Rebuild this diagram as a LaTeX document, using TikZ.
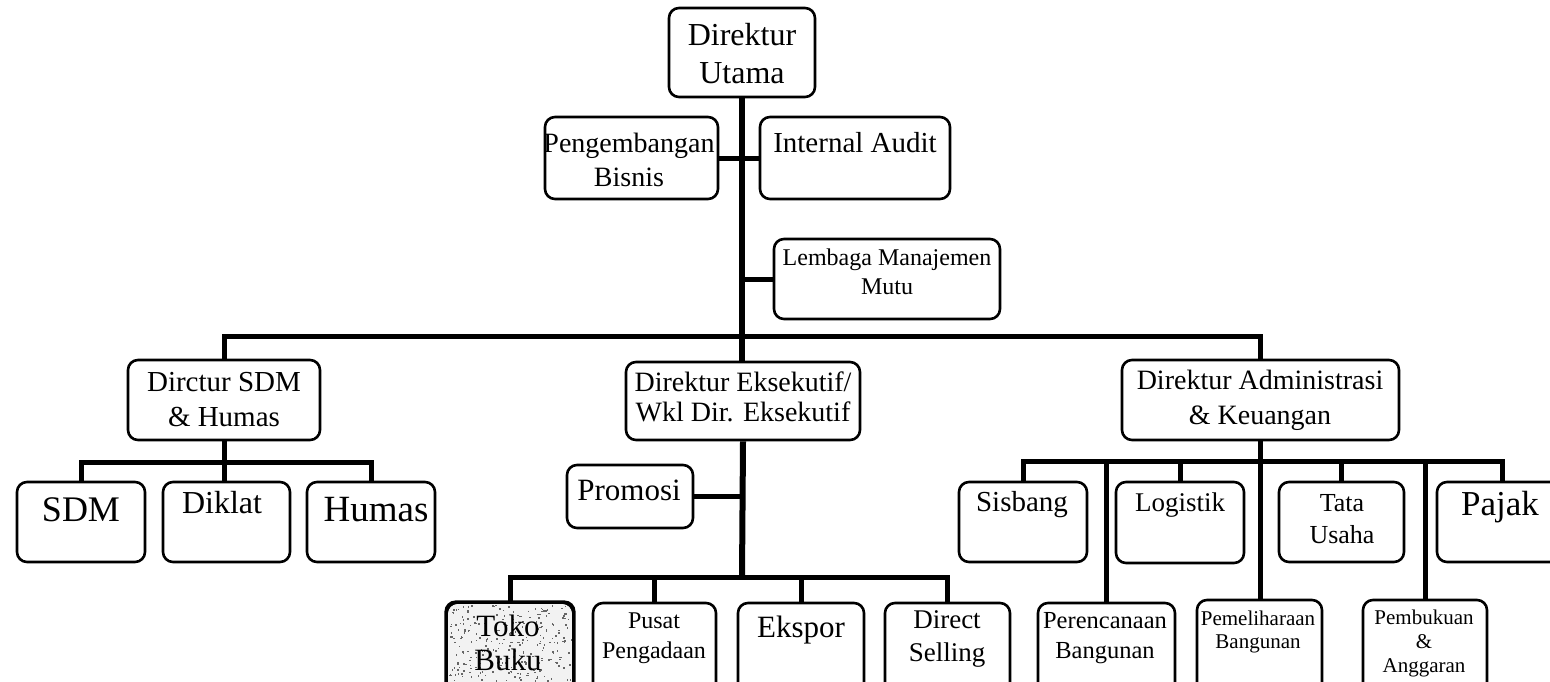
\documentclass[tikz,border=0pt]{standalone}
\usepackage{fontspec}
\setmainfont{Liberation Serif}
\begin{document}
\begin{tikzpicture}[x=1pt,y=-1pt,
  box/.style={draw, rounded corners=10pt, line width=2.6pt, inner sep=0pt, fill=white},
  link/.style={line width=5pt},
  trunk/.style={line width=6pt},
  lbl/.style={align=center, inner sep=0pt}]
\useasboundingbox (0,0) rectangle (1550,681);
\clip (0,0) rectangle (1550,681);

% box: name, x1, y1, x2, y2
\newcommand\orgbox[5]{%
  \node[box, minimum width={(#4-#2)*1pt}, minimum height={(#5-#3)*1pt}]
    (#1) at ({(#2+#4)/2},{(#3+#5)/2}) {};}
% label: name, x, y, size, leading, text
\newcommand\orglabel[6]{%
  \node[lbl, font=\fontsize{#4}{#5}\selectfont] (#1) at (#2,#3) {#6};}

% bus junctions
\coordinate (bus) at (742,336);
\coordinate (sbus) at (224,462);
\coordinate (ebus) at (742,577);
\coordinate (abus) at (1261,461);

% ---------- boxes ----------
\orgbox{du}{669}{8}{815}{97}
\orgbox{pb}{545}{117}{718}{199}
\orgbox{ia}{760}{117}{950}{199}
\orgbox{lmm}{774}{239}{1000}{319}
\orgbox{sdmh}{128}{360}{320}{440}
\orgbox{de}{626}{362}{860}{440}
\orgbox{da}{1122}{360}{1399}{440}
\orgbox{sdm}{17}{482}{145}{562}
\orgbox{diklat}{163}{482}{290}{562}
\orgbox{humas}{307}{482}{435}{562}
\orgbox{promosi}{567}{465}{693}{528}
\orgbox{toko}{447}{603}{573}{700}
\orgbox{pusat}{593}{603}{716}{700}
\orgbox{ekspor}{738}{603}{864}{700}
\orgbox{ds}{885}{603}{1010}{700}
\orgbox{sisbang}{959}{482}{1087}{562}
\orgbox{logistik}{1116}{482}{1244}{563}
\orgbox{tu}{1279}{482}{1404}{562}
\orgbox{pajak}{1437}{482}{1568}{562}
\orgbox{pren}{1038}{603}{1175}{700}
\orgbox{pem}{1197}{600}{1322}{700}
\orgbox{pbk}{1363}{600}{1487}{700}

% stippled fill of the bookshop box
\begin{scope}
  \clip[rounded corners=10pt] (448,604) rectangle (572,699);
  \fill[black!5] (447,603) rectangle (573,700);
  \pgfmathsetseed{4711}
  \foreach \i in {1,...,260}{
    \pgfmathsetmacro\px{449+122*rnd}
    \pgfmathsetmacro\py{605+76*rnd}
    \fill[black!60] (\px,\py) rectangle ++({0.8+1.4*rnd},{0.8+1.4*rnd});
  }
\end{scope}
\draw[line width=2.6pt, rounded corners=10pt] (toko.north west) rectangle (toko.south east);

% ---------- connectors ----------
\draw[trunk] (du.south) -- (du.south |- de.north);
\draw[link] (pb.east) -- (ia.west);
\draw[link] (lmm.west) -- (lmm.west -| du.south);
\draw[link] (sdmh.north) |- (bus) -| (da.north);
\draw[link] (sdm.north) |- (sbus) -| (humas.north);
\draw[link] (sdmh.south) -- (sdmh.south |- diklat.north);
\draw[link] (promosi.east) -- (promosi.east -| de.south);
\draw[trunk] (de.south) -- (ebus);
\draw[link] (toko.north) |- (ebus) -| (ds.north);
\draw[link] (pusat.north) -- (pusat.north |- ebus);
\draw[link] (ekspor.north) -- (ekspor.north |- ebus);
\draw[link] (sisbang.north) |- (abus) -| (pajak.north);
\draw[link] (da.south) -- (da.south |- pem.north);
\draw[link] (logistik.north) -- (logistik.north |- abus);
\draw[link] (tu.north) -- (tu.north |- abus);
\draw[link] (pren.north) -- (pren.north |- abus);
\draw[link] (pbk.north) -- (pbk.north |- abus);

% ---------- labels ----------
\orglabel{du-t}{742}{54}{32}{38}{Direktur\\Utama}
\orglabel{pb-t}{629}{160}{28}{34}{Pengembangan\\Bisnis}
\orglabel{ia-t}{855}{143}{29}{34}{Internal Audit}
\orglabel{lmm-t}{887}{272}{24}{29}{Lembaga Manajemen\\Mutu}
\orglabel{sdmh-t}{224}{400}{29}{35}{Dirctur SDM\\\& Humas}
\orglabel{de-t}{743}{397}{28}{30}{Direktur Eksekutif/\\Wkl Dir. Eksekutif}
\orglabel{da-t}{1260}{400}{28}{35}{Direktur Administrasi\\\& Keuangan}
\orglabel{sdm-t}{81}{510}{36}{40}{SDM}
\orglabel{diklat-t}{222}{503}{32}{36}{Diklat}
\orglabel{humas-t}{376}{510}{37}{40}{Humas}
\orglabel{promosi-t}{629}{490}{31}{36}{Promosi}
\orglabel{toko-t}{508}{643}{31}{34}{Toko\\Buku}
\orglabel{pusat-t}{654}{638}{24}{30}{Pusat\\Pengadaan}
\orglabel{ekspor-t}{801}{630}{31}{36}{Ekspor}
\orglabel{ds-t}{947}{639}{27}{33}{Direct\\Selling}
\orglabel{sisbang-t}{1022}{505}{29}{34}{Sisbang}
\orglabel{logistik-t}{1180}{505}{27}{32}{Logistik}
\orglabel{tu-t}{1342}{519}{26}{32}{Tata\\Usaha}
\orglabel{pajak-t}{1500}{507}{35}{40}{Pajak}
\orglabel{pren-t}{1105}{638}{24.5}{30}{Perencanaan\\Bangunan}
\orglabel{pem-t}{1258}{632}{21}{23}{Pemeliharaan\\Bangunan}
\orglabel{pbk-t}{1424}{643}{21}{24}{Pembukuan\\\&\\Anggaran}
\end{tikzpicture}
\end{document}
